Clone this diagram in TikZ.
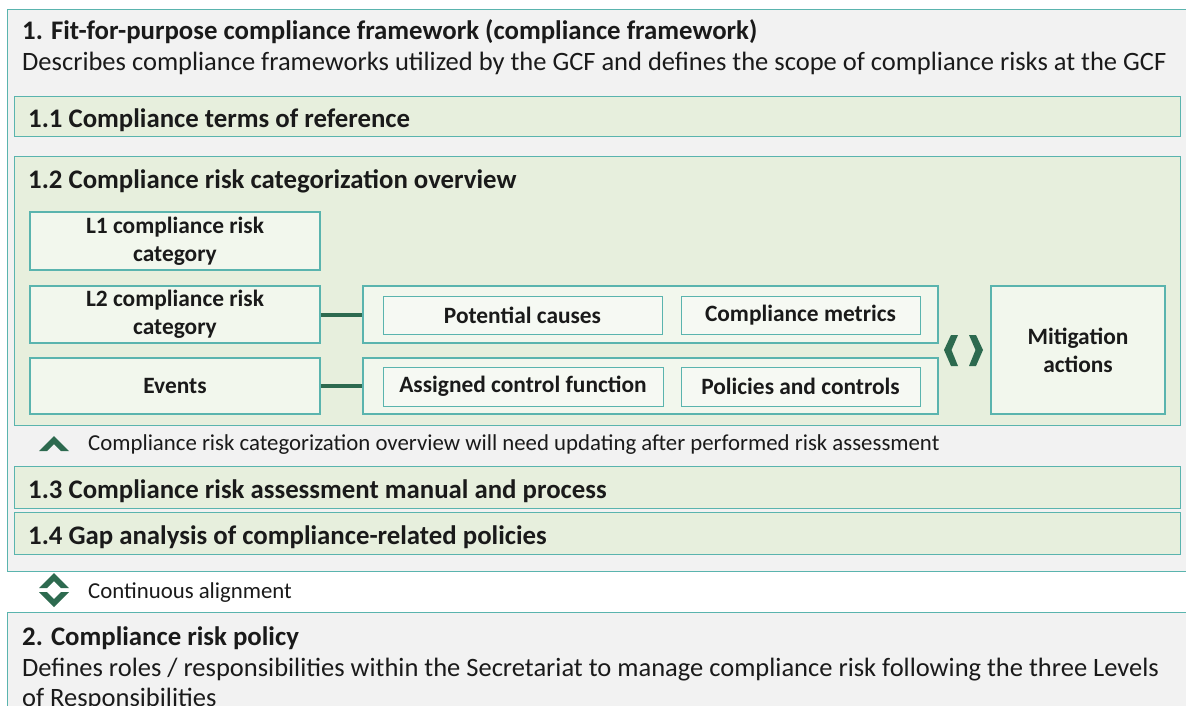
\documentclass[tikz,border=0pt]{standalone}
\usepackage{fontspec}
\setmainfont{Carlito}
\usetikzlibrary{positioning,calc}
\definecolor{GcfTeal}{RGB}{90,180,174}
\definecolor{GcfGray}{RGB}{242,242,242}
\definecolor{GcfSection}{RGB}{231,239,221}
\definecolor{GcfCell}{RGB}{242,247,237}
\definecolor{GcfItem}{RGB}{246,249,243}
\definecolor{GcfDark}{RGB}{45,106,79}
\definecolor{GcfInk}{RGB}{26,26,26}
\newcommand{\gcfhead}{\fontsize{26.8}{31}\selectfont\bfseries}
\newcommand{\gcftext}{\fontsize{26.5}{31}\selectfont}
\newcommand{\gcfcell}{\fontsize{23.4}{28}\selectfont\bfseries}
\newcommand{\gcfnote}{\fontsize{22.8}{26}\selectfont}
\tikzset{panel/.style={draw=GcfTeal,fill=GcfGray,line width=1.2pt,anchor=north west,inner sep=0pt},
 sect/.style={draw=GcfTeal,fill=GcfSection,line width=1.2pt,anchor=north west,inner sep=0pt},
 cell/.style={draw=GcfTeal,fill=GcfCell,line width=2.2pt,align=center,font=\gcfcell,inner sep=0pt},
 item/.style={draw=GcfTeal,fill=GcfItem,line width=1pt,align=center,font=\gcfcell,inner sep=0pt},
 lbl/.style={anchor=base west,inner sep=0pt,text=GcfInk},
 link/.style={draw=GcfDark,line width=4pt},
 chev/.style={fill=GcfDark}}

\begin{document}
\begin{tikzpicture}[x=1pt,y=-1pt,text=GcfInk]
\useasboundingbox[fill=white] (0,0) rectangle (1186,706);
\clip (0,0) rectangle (1186,706);
% outer panels
\node[panel,minimum width=1200pt,minimum height=562pt] (fw) at (7,9) {};
\node[panel,minimum width=1200pt,minimum height=110pt] (pol) at (7,612) {};
\node[lbl,font=\gcfhead] (fwtitle) at (22,40) {1. Fit-for-purpose compliance framework (compliance framework)};
\node[lbl,font=\gcftext] (fwdesc) at (22,71) {Describes compliance frameworks utilized by the GCF and defines the scope of compliance risks at the GCF};
% sections
\node[sect,minimum width=1166pt,minimum height=40pt] (s11) at (14,96) {};
\node[lbl,font=\gcfhead] at (28,128) {1.1 Compliance terms of reference};
\node[sect,minimum width=1166pt,minimum height=269pt] (s12) at (14,156) {};
\node[lbl,font=\gcfhead] at (28,188) {1.2 Compliance risk categorization overview};
\node[sect,minimum width=1166pt,minimum height=42pt] (s13) at (14,466) {};
\node[lbl,font=\gcfhead] at (28,498) {1.3 Compliance risk assessment manual and process};
\node[sect,minimum width=1166pt,minimum height=42pt] (s14) at (14,512) {};
\node[lbl,font=\gcfhead] at (28,544) {1.4 Gap analysis of compliance-related policies};
% categorization overview
\node[cell,minimum width=290pt,minimum height=58pt] (l1) at (175,241) {L1 compliance risk\\category};
\node[cell,minimum width=290pt,minimum height=57pt] (l2) at (175,314.5) {L2 compliance risk\\category};
\node[cell,minimum width=290pt,minimum height=56pt] (ev) at (175,386) {Events};
\node[cell,minimum width=575pt,minimum height=57pt] (grpa) at (650.5,314.5) {};
\node[cell,minimum width=575pt,minimum height=56pt] (grpb) at (650.5,386) {};
\node[item,minimum width=279pt,minimum height=38pt] (cause) at (522.5,315) {Potential causes};
\node[item,minimum width=239pt,minimum height=38pt] (metric) at (800.5,315) {Compliance metrics};
\node[item,minimum width=280pt,minimum height=39pt] (ctrlfn) at (523,386.5) {Assigned control function};
\node[item,minimum width=239pt,minimum height=39pt] (policy) at (800.5,386.5) {Policies and controls};
\node[cell,minimum width=174pt,minimum height=128pt] (mit) at (1078,350) {Mitigation\\actions};
\draw[link] (l2.east) -- (grpa.west);
\draw[link] (ev.east) -- (grpb.west);
\fill[chev] (958,335) -- (951,335) -- (944,350) -- (951,366) -- (958,366) -- (951.5,350) -- cycle;
\fill[chev] (969,335) -- (976,335) -- (983,350) -- (976,366) -- (969,366) -- (975.5,350) -- cycle;
% notes
\fill[chev] (39,451) -- (54,436) -- (69,451) -- (61,451) -- (54,444) -- (47,451) -- cycle;
\node[lbl,font=\gcfnote] (upd) at (88,450) {Compliance risk categorization overview will need updating after performed risk assessment};
\fill[chev] (39,588) -- (54,573) -- (69,588) -- (61,588) -- (54,581) -- (47,588) -- cycle;
\fill[chev] (39,592) -- (47,592) -- (54,599) -- (61,592) -- (69,592) -- (54,607) -- cycle;
\node[lbl,font=\gcfnote] (align) at (88,598) {Continuous alignment};
% compliance risk policy
\node[lbl,font=\gcfhead] (poltitle) at (22,645) {2. Compliance risk policy};
\node[lbl,font=\gcftext] (poldesc) at (22,676) {Defines roles / responsibilities within the Secretariat to manage compliance risk following the three Levels};
\node[lbl,font=\gcftext] at (22,706) {of Responsibilities};
\end{tikzpicture}
\end{document}
